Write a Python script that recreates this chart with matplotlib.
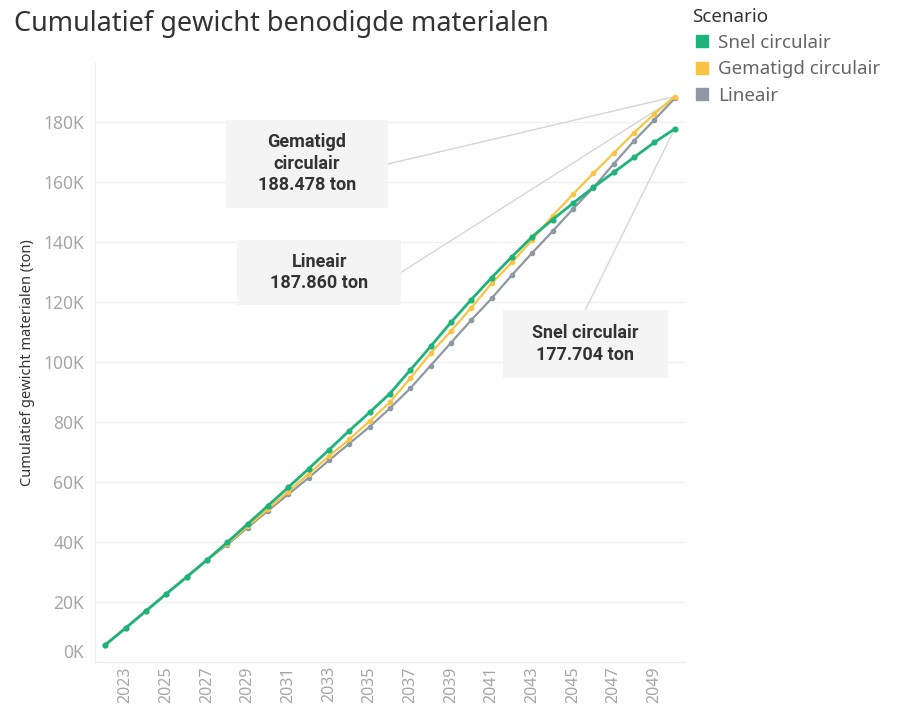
import matplotlib
matplotlib.use("Agg")
import matplotlib.pyplot as plt
from matplotlib.lines import Line2D
from matplotlib.patches import Rectangle

# cumulatieve hoeveelheden in duizend ton, per jaar
jaren = list(range(2022, 2051))
snel = [5.7, 11.3, 17.0, 22.7, 28.3, 34.0, 39.9, 46.0, 52.1, 58.2, 64.4, 70.7, 77.1, 83.2,
        89.5, 97.3, 105.2, 113.2, 120.8, 128.1, 135.1, 141.8, 147.5, 152.9, 158.2, 163.2,
        168.2, 173.2, 177.704]
gematigd = [5.7, 11.3, 17.0, 22.7, 28.3, 34.0, 39.4, 45.2, 51.0, 56.8, 62.7, 68.6, 74.2, 80.3,
            86.6, 94.6, 102.9, 110.3, 118.1, 126.2, 133.2, 140.8, 148.7, 155.9, 162.9, 169.6,
            176.4, 182.7, 188.478]
lineair = [5.7, 11.3, 17.0, 22.7, 28.3, 34.0, 39.1, 44.8, 50.4, 55.9, 61.4, 67.2, 72.8, 78.4,
           84.6, 91.2, 98.8, 106.4, 114.0, 121.2, 129.0, 136.4, 143.6, 151.0, 158.1, 166.0,
           173.7, 180.7, 187.860]

kleur_snel = "#1db37a"
kleur_gematigd = "#f9c344"
kleur_lineair = "#8d98a3"

plt.rcParams['font.family'] = ['Noto Sans', 'DejaVu Sans']

fig = plt.figure(figsize=(8.99, 7.06), dpi=100)
ax = fig.add_axes([0.1057, 0.0623, 0.656, 0.8485])

ax.plot(jaren, lineair, color=kleur_lineair, lw=1.6, marker='o', ms=3.0, zorder=3)
ax.plot(jaren, gematigd, color=kleur_gematigd, lw=1.6, marker='o', ms=3.0, zorder=4)
ax.plot(jaren, snel, color=kleur_snel, lw=2.0, marker='o', ms=3.4, zorder=5)

ax.set_xlim(2021.5, 2050.5)
ax.set_ylim(0, 199.7)
ax.set_xticks(range(2023, 2050, 2))
ax.set_xticklabels([str(j) for j in range(2023, 2050, 2)], rotation=90)
ax.set_yticks(range(0, 181, 20))
ax.set_yticklabels(["%dK" % v for v in range(0, 181, 20)])
ax.get_yticklabels()[0].set_verticalalignment('bottom')
ax.tick_params(length=0, colors="#a6a6a6", labelsize=12.5, pad=8)
ax.tick_params(axis='x', pad=3, labelsize=11.5)

ax.grid(axis='y', color="#f0f0f0", lw=1)
ax.set_axisbelow(True)
for s in ['top', 'right']:
    ax.spines[s].set_visible(False)
ax.spines['left'].set_color("#ececec")
ax.spines['bottom'].set_color("#ececec")

ax.set_ylabel("Cumulatief gewicht materialen (ton)", fontsize=10.5, color="#333333", labelpad=6)

# labels bij de eindwaarden
labels = [
    ("Gematigd\ncirculair\n%s ton" % f"{gematigd[-1]:.3f}", gematigd, (0.222, 0.758, 0.275, 0.147), 'right'),
    ("Lineair\n%s ton" % f"{lineair[-1]:.3f}", lineair, (0.241, 0.596, 0.278, 0.109), 'right'),
    ("Snel circulair\n%s ton" % f"{snel[-1]:.3f}", snel, (0.692, 0.474, 0.279, 0.114), 'top'),
]
for tekst, reeks, (bx, by, bw, bh), kant in labels:
    ax.add_patch(Rectangle((bx, by), bw, bh, transform=ax.transAxes, facecolor="#f4f4f4",
                           edgecolor='none', zorder=6))
    if kant == 'right':
        start = (bx + bw, by + bh / 2)
    else:
        start = (bx + bw / 2, by + bh)
    ax.annotate("", xy=(jaren[-1], reeks[-1]), xytext=start, textcoords=ax.transAxes,
                arrowprops=dict(arrowstyle='-', color="#d6d6d6", lw=1, shrinkA=0, shrinkB=0),
                zorder=2)
    ax.text(bx + bw / 2, by + bh / 2, tekst, transform=ax.transAxes,
            ha='center', va='center', fontsize=13, fontweight='bold', color="#333333",
            family=['Roboto', 'DejaVu Sans'], linespacing=1.25, zorder=7)

fig.text(0.016, 0.966, "Cumulatief gewicht benodigde materialen", fontsize=19.5,
         color="#333333", va='center', ha='left')

handles = [Line2D([], [], ls='none', marker='s', ms=9, color=c)
           for c in [kleur_snel, kleur_gematigd, kleur_lineair]]
leg = fig.legend(handles, ["Snel circulair", "Gematigd circulair", "Lineair"],
                 title="Scenario", loc='upper left', bbox_to_anchor=(0.762, 1.0),
                 frameon=False, fontsize=13.5, title_fontsize=13.5, alignment='left',
                 handletextpad=0.35, handlelength=1.0, labelspacing=0.45, borderaxespad=0)
for t in leg.get_texts():
    t.set_color("#666666")
leg.get_title().set_color("#333333")

fig.savefig("out.png", dpi=100)
